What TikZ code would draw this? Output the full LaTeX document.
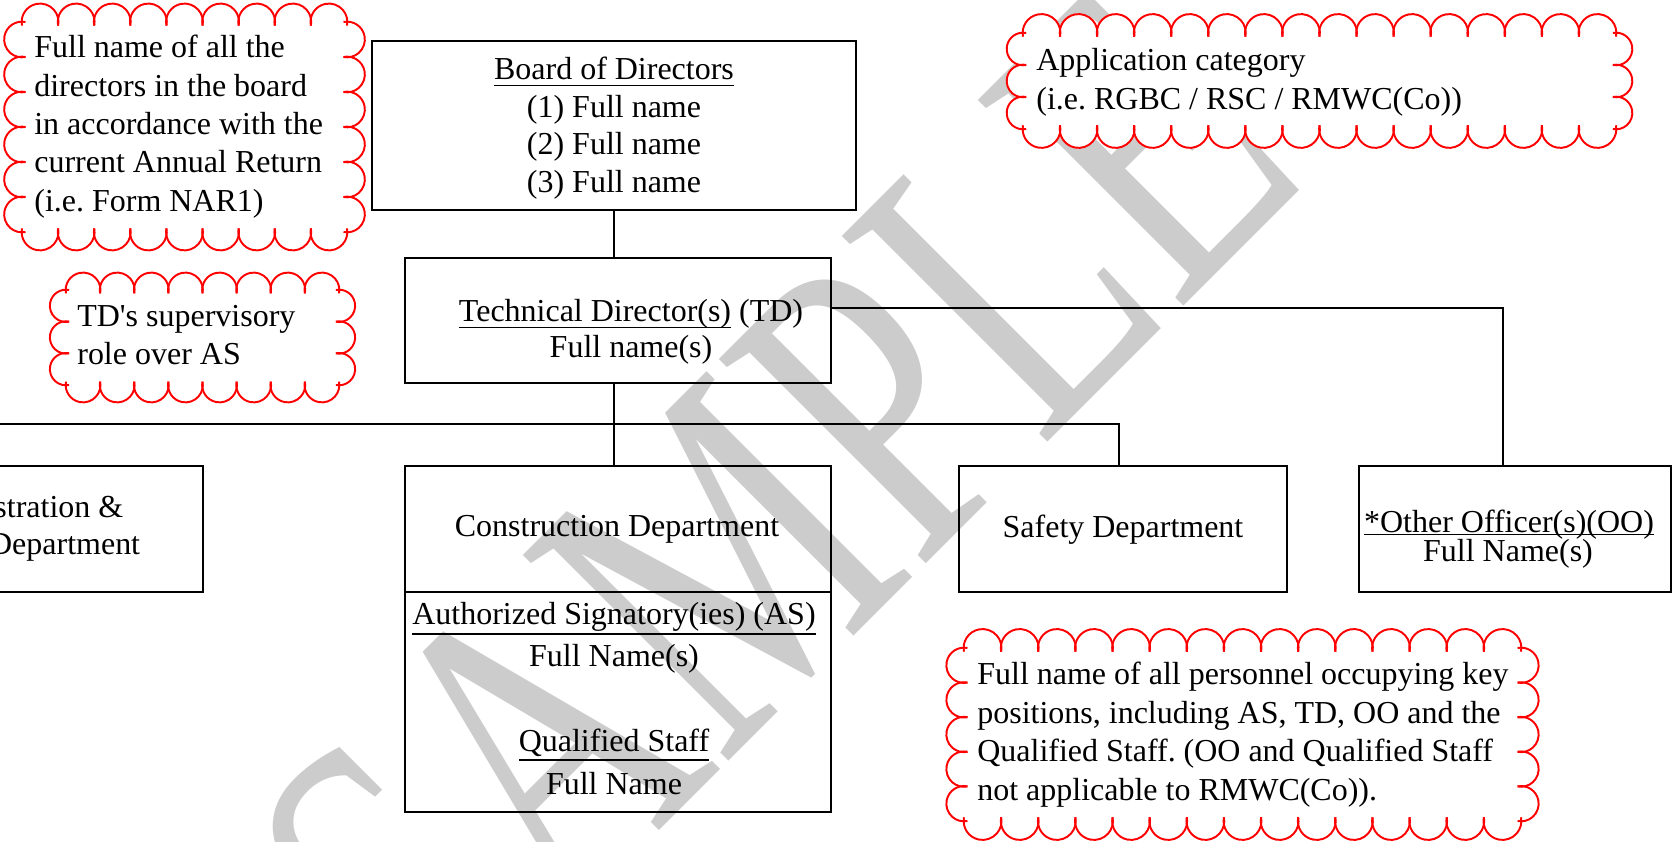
\documentclass[tikz,border=0pt]{standalone}
\usepackage{fontspec}
\setmainfont{Liberation Serif}
\frenchspacing

\newcommand\ulined[2][0.2em]{\setbox0\hbox{#2}\rlap{\rule[-#1]{\wd0}{0.75pt}}\box0\relax}

% scalloped red outline: left, bottom, right, top, bumps across, bumps down
\newcommand\scallops[6]{%
  \pgfmathsetmacro\bx{(#3-#1)/#5}%
  \pgfmathsetmacro\by{(#4-#2)/#6}%
  \fill[white] (#1,#2) rectangle (#3,#4);
  \foreach \i in {1,...,#5} {
    \fill[white] ({#1+(\i-0.5)*\bx},#2) circle[radius=0.51*\bx];
    \fill[white] ({#1+(\i-0.5)*\bx},#4) circle[radius=0.51*\bx];
  }
  \foreach \j in {1,...,#6} {
    \fill[white] (#1,{#2+(\j-0.5)*\by}) circle[radius=0.51*\by];
    \fill[white] (#3,{#2+(\j-0.5)*\by}) circle[radius=0.51*\by];
  }
  \foreach \i in {1,...,#5} {
    \draw[cloudline] ({#1+(\i-0.5)*\bx},#4) ++(191.3:{0.51*\bx}) arc[start angle=191.3, end angle=-11.3, radius=0.51*\bx];
    \draw[cloudline] ({#1+(\i-0.5)*\bx},#2) ++(168.7:{0.51*\bx}) arc[start angle=168.7, end angle=371.3, radius=0.51*\bx];
  }
  \foreach \j in {1,...,#6} {
    \draw[cloudline] (#1,{#2+(\j-0.5)*\by}) ++(78.7:{0.51*\by}) arc[start angle=78.7, end angle=281.3, radius=0.51*\by];
    \draw[cloudline] (#3,{#2+(\j-0.5)*\by}) ++(101.3:{0.51*\by}) arc[start angle=101.3, end angle=-101.3, radius=0.51*\by];
  }
}

\begin{document}
\begin{tikzpicture}[
    every node/.style={inner sep=0pt, font=\fontsize{18.2}{21.8}\selectfont},
    orgbox/.style={draw, line width=1.1pt},
    link/.style={line width=0.9pt},
    cloudline/.style={draw=red, line width=1.1pt},
    watermark/.style={text=black!20, font=\fontsize{178}{178}\selectfont, rotate=45, yscale=1.42, anchor=base}
  ]
    \useasboundingbox (0,0) rectangle (33.48,16.84);
    \clip (0,0) rectangle (33.48,16.84);

    % watermark
    \node[watermark] (wm) at (17.52,4.56) {SAMPLE};

    % notes
    \scallops{0.44}{12.20}{6.94}{16.40}{9}{6}
    \scallops{1.32}{9.14}{6.78}{11.04}{8}{3}
    \scallops{20.46}{14.26}{32.32}{16.18}{16}{3}
    \scallops{19.28}{0.42}{30.42}{3.88}{15}{5}

    % boxes
    \node[orgbox, minimum width=9.68cm, minimum height=3.38cm] (board) at (12.28,14.33) {};
    \node[orgbox, minimum width=8.52cm, minimum height=2.50cm] (td) at (12.36,10.43) {};
    \node[orgbox, minimum width=8.52cm, minimum height=6.92cm] (cons) at (12.36,4.06) {};
    \node[orgbox, minimum width=7.72cm, minimum height=2.52cm] (admin) at (0.20,6.26) {};
    \node[orgbox, minimum width=6.56cm, minimum height=2.52cm] (safety) at (22.46,6.26) {};
    \node[orgbox, minimum width=6.24cm, minimum height=2.52cm] (oo) at (30.30,6.26) {};
    \draw[orgbox] ([yshift=0.94cm]cons.west) -- ([yshift=0.94cm]cons.east);

    % connectors
    \coordinate (bus) at (12.28,8.36);
    \draw[link] (board.south) -- (board.south |- td.north);
    \draw[link] (td.south -| board.south) -- (cons.north -| board.south);
    \draw[link] ([xshift=-0.3cm]admin.north) |- (bus) -| ([xshift=-0.08cm]safety.north);
    \draw[link] ([yshift=0.25cm]td.east) -| ([xshift=-0.24cm]oo.north);

    % box texts
    \foreach \t [count=\i] in {{\ulined{Board of Directors}}, {(1) Full name}, {(2) Full name}, {(3) Full name}}
        \node[anchor=base] (bd\i) at (12.28,{15.24-(\i-1)*0.747}) {\t};
    \node[anchor=base] (tdtop) at (12.62,10.40) {\ulined{Technical Director(s)} (TD)};
    \node[anchor=base] (tdname) at (12.62,9.68) {Full name(s)};
    \node[anchor=base] (constitle) at (12.34,6.10) {Construction Department};
    \node[anchor=base] (as) at (12.28,4.34) {\ulined[0.3em]{Authorized Signatory(ies) (AS)}};
    \node[anchor=base] (asname) at (12.28,3.50) {Full Name(s)};
    \node[anchor=base] (qs) at (12.28,1.80) {\ulined[0.27em]{Qualified Staff}};
    \node[anchor=base] (qsname) at (12.28,0.94) {Full Name};
    \node[anchor=base] (admintop) at (0.20,6.48) {Administration \&};
    \node[anchor=base] (adminname) at (0.20,5.74) {Finance Department};
    \node[anchor=base] (safetytxt) at (22.46,6.08) {Safety Department};
    \node[anchor=base] (ootop) at (30.18,6.18) {\ulined[0.07em]{*Other Officer(s)(OO)}};
    \node[anchor=base] (ooname) at (30.16,5.60) {Full Name(s)};

    % note texts
    \foreach \t [count=\i] in {{Full name of all the}, {directors in the board}, {in accordance with the}, {current Annual Return}, {(i.e. Form NAR1)}}
        \node[anchor=base west] (boardnote\i) at (0.68,{15.68-(\i-1)*0.766}) {\t};
    \foreach \t [count=\i] in {{TD\textquotesingle s supervisory}, {role over AS}}
        \node[anchor=base west] (tdnote\i) at (1.54,{10.30-(\i-1)*0.76}) {\t};
    \foreach \t [count=\i] in {{Application category}, {(i.e. RGBC / RSC / RMWC(Co))}}
        \node[anchor=base west] (catnote\i) at (20.72,{15.42-(\i-1)*0.78}) {\t};
    \foreach \t [count=\i] in {{Full name of all personnel occupying key}, {positions, including AS, TD, OO and the}, {Qualified Staff. (OO and Qualified Staff}, {not applicable to RMWC(Co)).}}
        \node[anchor=base west] (keynote\i) at (19.54,{3.14-(\i-1)*0.767}) {\t};
\end{tikzpicture}
\end{document}
